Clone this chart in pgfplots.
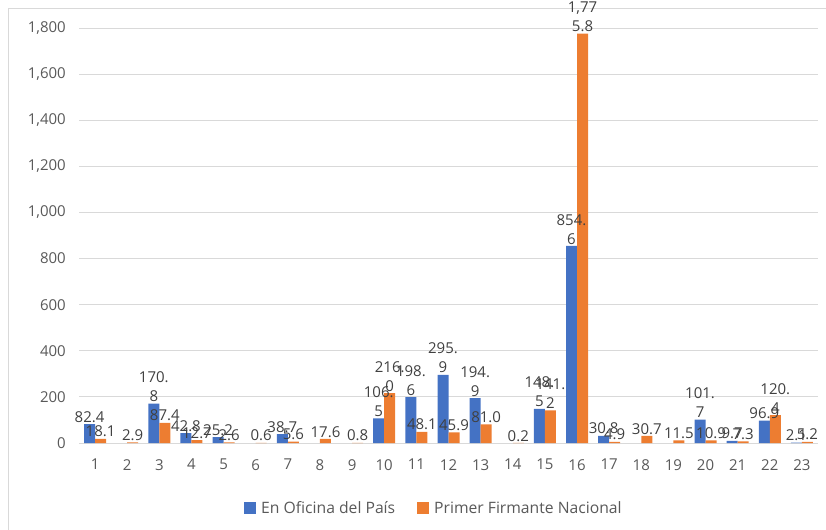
\documentclass[border=0pt]{standalone}
\usepackage{pgfplots}
\pgfplotsset{compat=1.18}
\usepackage{fontspec}
\setmainfont{Open Sans}
\definecolor{barblue}{HTML}{4472C4}
\definecolor{barorange}{HTML}{ED7D31}
\definecolor{gridgray}{HTML}{D9D9D9}
\definecolor{ticktext}{HTML}{595959}
\definecolor{labeltext}{HTML}{404040}
\begin{document}
\begin{tikzpicture}
\clip (0,0) rectangle (826bp,530bp);
\useasboundingbox (0,0) rectangle (826bp,530bp);
% chart frame (top and left edges)
\draw[gridgray, line width=0.8bp] (8.5bp,0) -- (8.5bp,521.5bp) -- (826bp,521.5bp);
\begin{axis}[
  at={(79bp,87bp)}, anchor=south west,
  scale only axis, width=739bp, height=415bp,
  ybar=0pt, bar width=11bp,
  xmin=0.5, xmax=23.5, ymin=0, ymax=1800,
  xtick={1,...,23}, ytick={0,200,...,1800},
  axis line style={draw=none},
  major tick length=0pt,
  ymajorgrids, grid style={gridgray, line width=0.9bp},
  tick label style={font=\fontsize{15bp}{18bp}\selectfont, text=ticktext, inner sep=0pt},
  xticklabel shift=16bp, yticklabel shift=13bp,
  /pgf/number format/.cd, 1000 sep={,}, assume math mode=true,
  /pgfplots/.cd,
  scaled y ticks=false,
  clip=false,
  point meta=explicit symbolic,
  nodes near coords,
  every node near coord/.append style={font=\fontsize{15bp}{19bp}\selectfont, text=labeltext, align=center, inner sep=1.5bp, anchor=south},
  legend style={draw=none, fill=none, at={(0.2233,-0.1566)}, anchor=west, inner sep=0pt,
    font=\fontsize{15.7bp}{18bp}\selectfont, text=ticktext, legend columns=2,
    /tikz/every even column/.style={column sep=22bp},
    nodes={inner sep=0pt, anchor=west}},
  legend image code/.code={\fill[#1] (0bp,-6bp) rectangle (12bp,6bp); \path (17bp,0bp);},
]
\addplot[fill=barblue, draw=none] coordinates {
  (1,82.4)[82.4] (3,170.8)[{170.\\8}] (4,42.8)[42.8] (5,25.2)[25.2]
  (7,38.7)[38.7] (10,106.5)[{106.\\5}] (11,198.6)[{198.\\6}] (12,295.9)[{295.\\9}]
  (13,194.9)[{194.\\9}] (15,148.5)[{148.\\5}] (16,854.6)[{854.\\6}] (17,30.8)[30.8]
  (20,101.7)[{101.\\7}] (21,9.7)[9.7] (22,96.9)[96.9] (23,2.1)[2.1]
};
\addplot[fill=barorange, draw=none] coordinates {
  (1,18.1)[18.1] (2,2.9)[2.9] (3,87.4)[87.4] (4,12.7)[12.7] (5,2.6)[2.6]
  (6,0.6)[0.6] (7,5.6)[5.6] (8,17.6)[17.6] (9,0.8)[0.8] (10,216.0)[{216.\\0}]
  (11,48.1)[48.1] (12,45.9)[45.9] (13,81.0)[81.0] (14,0.2)[0.2] (15,141.2)[{141.\\2}]
  (16,1775.8)[{1,77\\5.8}] (17,4.9)[4.9] (18,30.7)[30.7] (19,11.5)[11.5]
  (20,10.9)[10.9] (21,7.3)[7.3] (22,120.4)[{120.\\4}] (23,5.2)[5.2]
};
\legend{En Oficina del País, Primer Firmante Nacional}
\end{axis}
\end{tikzpicture}
\end{document}
